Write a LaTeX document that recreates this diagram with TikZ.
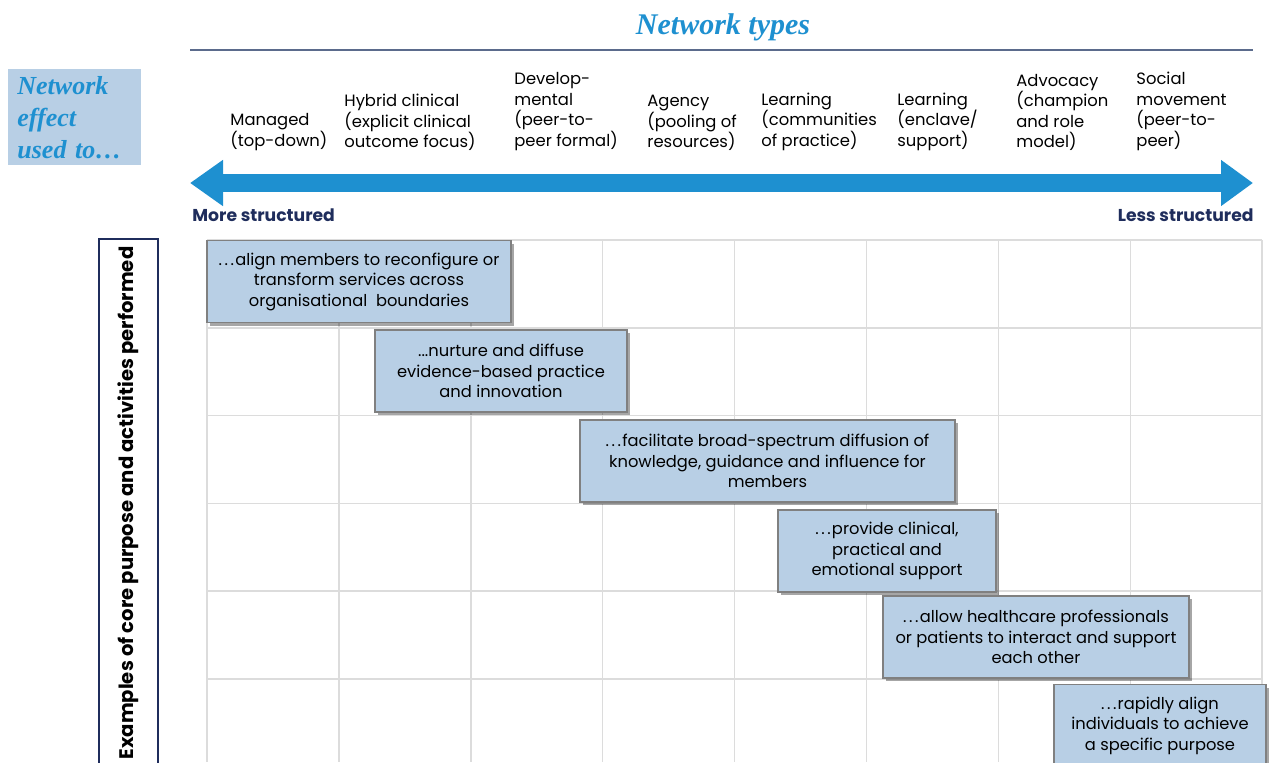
\documentclass[tikz,border=0pt]{standalone}
\usepackage{fontspec}
\setmainfont{Poppins}
\newfontfamily\titlefont{Liberation Serif}
\usetikzlibrary{arrows.meta}
\usetikzlibrary{shadows}
\usetikzlibrary{positioning}

\definecolor{navy}{HTML}{1F2D5C}
\definecolor{titleblue}{HTML}{1E90D0}
\definecolor{boxblue}{HTML}{B8CFE5}
\definecolor{gridgray}{HTML}{DCDCDC}
\definecolor{rulegray}{HTML}{5B6B8C}

\newcommand{\ldotsgap}{.\kern1.3pt.\kern1.3pt.\kern0.6pt}

\tikzset{
  gridline/.style={gridgray, line width=0.75pt},
  typelabel/.style={anchor=south west, align=left, inner sep=0pt, font=\fontsize{8.2}{10.25}\selectfont},
  effect/.style={draw=black!50, line width=0.75pt, fill=boxblue, align=center, inner sep=0pt,
    minimum height=41pt, font=\fontsize{8.15}{10.25}\selectfont,
    drop shadow={shadow xshift=1.5pt, shadow yshift=-1.5pt, opacity=0.35, fill=black}},
  ends/.style={inner sep=0pt, text=navy, font=\bfseries\fontsize{8.6}{10}\selectfont}
}

\begin{document}
\begin{tikzpicture}[x=0.5pt, y=-0.5pt]
    \useasboundingbox (0,0) rectangle (1269,762);

    % Title and rule
    \node[text=titleblue, font=\titlefont\bfseries\itshape\fontsize{15}{18}\selectfont] (types) at (723,27) {Network types};
    \draw[rulegray, line width=0.9pt] (190,50) -- (1253,50);

    % Left label
    \node[fill=boxblue, anchor=north west, minimum width=66.5pt, minimum height=48pt, text width=57.5pt,
          inner xsep=4.5pt, align=left, text=titleblue,
          font=\titlefont\bfseries\itshape\fontsize{13}{16}\selectfont] (effect) at (8,69) {Network\\effect\\used to…};

    % Network types
    \node[typelabel] (managed) at (230,151) {Managed\\(top-down)};
    \node[typelabel] (hybrid) at (344,151) {Hybrid clinical\\(explicit clinical\\outcome focus)};
    \node[typelabel] (develop) at (514,151) {Develop-\\mental\\(peer-to-\\peer formal)};
    \node[typelabel] (agency) at (647,151) {Agency\\(pooling of\\resources)};
    \node[typelabel] (learncop) at (761,151) {Learning\\(communities\\of practice)};
    \node[typelabel] (learnenc) at (897,151) {Learning\\(enclave/\\support)};
    \node[typelabel] (advocacy) at (1016,151) {Advocacy\\(champion\\and role\\model)};
    \node[typelabel] (social) at (1136,151) {Social\\movement\\(peer-to-\\peer)};

    % Structure arrow
    \coordinate (moreend) at (190,183);
    \coordinate (lessend) at (1253,183);
    \draw[titleblue, line width=9pt, {Triangle[length=16.5pt,width=22pt]}-{Triangle[length=16pt,width=22pt]}] (moreend) -- (lessend);
    \node[ends, anchor=base west] (more) at (192,221) {More structured};
    \node[ends, anchor=base east] (less) at (1254,221) {Less structured};

    % Grid
    \foreach \c in {0,...,8}
        \draw[gridline] ({207+131.9*\c},240) -- ({207+131.9*\c},762);
    \foreach \r in {0,...,5}
        \draw[gridline] (207,{240+87.8*\r}) -- (1262,{240+87.8*\r});

    % Side label
    \node[draw=navy, line width=1pt, fill=white, anchor=north, minimum width=29.5pt, minimum height=290pt] (sidebox) at (128.5,238) {};
    \node[rotate=90, inner sep=0pt, font=\bfseries\fontsize{9.8}{11}\selectfont] (side) at (128,503) {Examples of core purpose and activities performed};

    % Effects
    \node[effect, minimum width=152pt] (align) at (359,281.5) {\ldotsgap align members to reconfigure or\\transform services across\\organisational\ \ boundaries};
    \node[effect, minimum width=126pt] (nurture) at (501,371) {...nurture and diffuse\\evidence-based practice\\and innovation};
    \node[effect, minimum width=187.5pt] (diffuse) at (767.5,461) {\ldotsgap facilitate broad-spectrum diffusion of\\knowledge, guidance and influence for\\members};
    \node[effect, minimum width=109pt] (support) at (887,551) {\ldotsgap provide clinical,\\practical and\\emotional support};
    \node[effect, minimum width=153pt] (interact) at (1036,637) {\ldotsgap allow healthcare professionals\\or patients to interact and support\\each other};
    \node[effect, minimum width=106pt] (rapid) at (1160,725.5) {\ldotsgap rapidly align\\individuals to achieve\\a specific purpose};
\end{tikzpicture}
\end{document}
